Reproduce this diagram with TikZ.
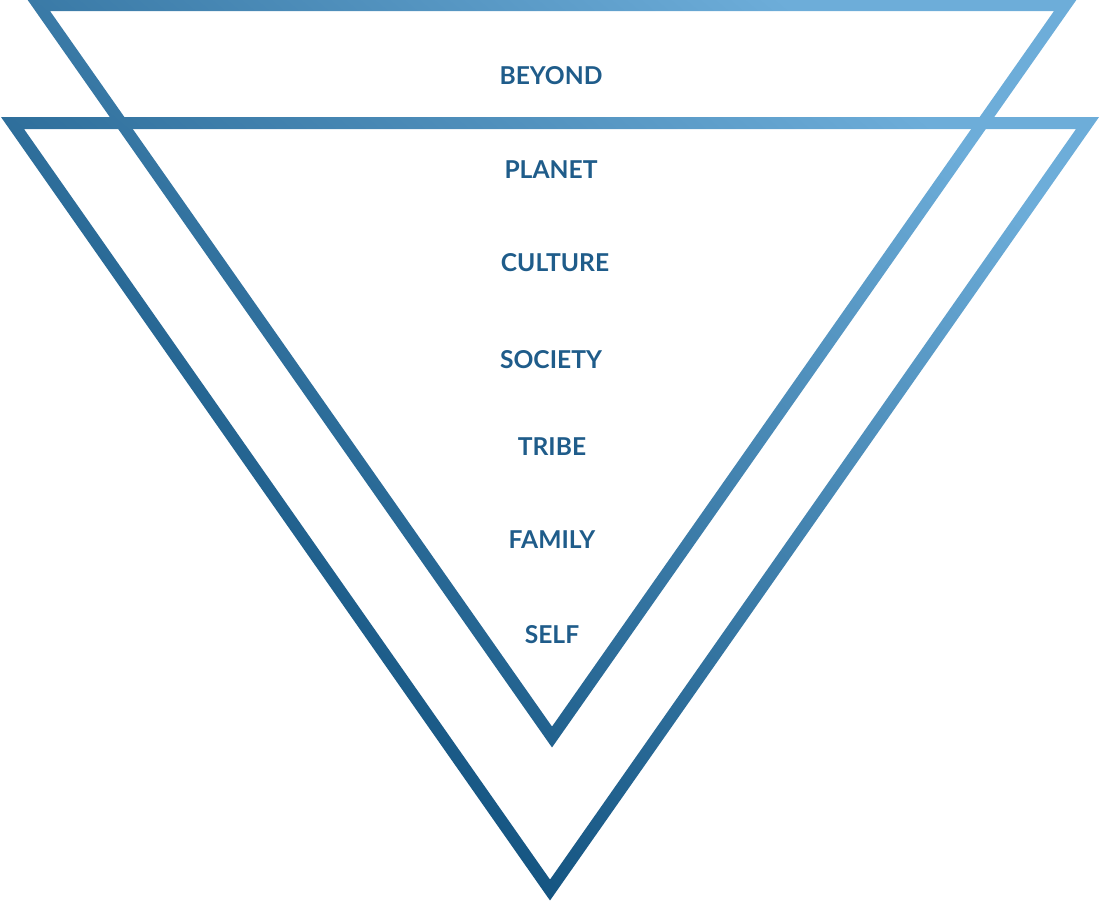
\documentclass[tikz,border=0pt]{standalone}
\usepackage{fontspec}
\setmainfont{Lato}
\usepackage{tikz}
\definecolor{ringlight}{HTML}{6DADD9}
\definecolor{ringdark}{HTML}{054572}
\definecolor{lvltext}{HTML}{1F5C8A}
\tikzstyle{lvl}=[text=lvltext,font=\fontsize{7}{8}\selectfont\bfseries,inner sep=0]
\tikzstyle{ring}=[top color=ringlight,bottom color=ringdark,shading angle=-40]

% one triangle band: left x, right x, top y, tip x, tip y of its centre line
\newcommand{\vring}[5]{%
  \begin{scope}[even odd rule]
    \clip
      ({#1-11.5},{#3-6}) -- ({#2+11.5},{#3-6}) -- (#4,{#5+10.45}) -- cycle
      ({#1+11.5},{#3+6}) -- ({#2-11.5},{#3+6}) -- (#4,{#5-10.45}) -- cycle;
    \shade[ring] (0,0) rectangle (1101,902);
  \end{scope}}

\begin{document}
\begin{tikzpicture}[x=0.01cm,y=-0.01cm]
                        \useasboundingbox (0,0) rectangle (1101,902);

                        \vring{38.5}{1065.5}{5}{552}{737}
                        \vring{12.5}{1087.5}{123}{550}{890}

                        \node[lvl] (beyond)  at (551,76)  {BEYOND};
                        \node[lvl] (planet)  at (551,170) {PLANET};
                        \node[lvl] (culture) at (555,263) {CULTURE};
                        \node[lvl] (society) at (551,360) {SOCIETY};
                        \node[lvl] (tribe)   at (552,447) {TRIBE};
                        \node[lvl] (family)  at (552,540) {FAMILY};
                        \node[lvl] (self)    at (552,635) {SELF};

    \end{tikzpicture}
\end{document}
